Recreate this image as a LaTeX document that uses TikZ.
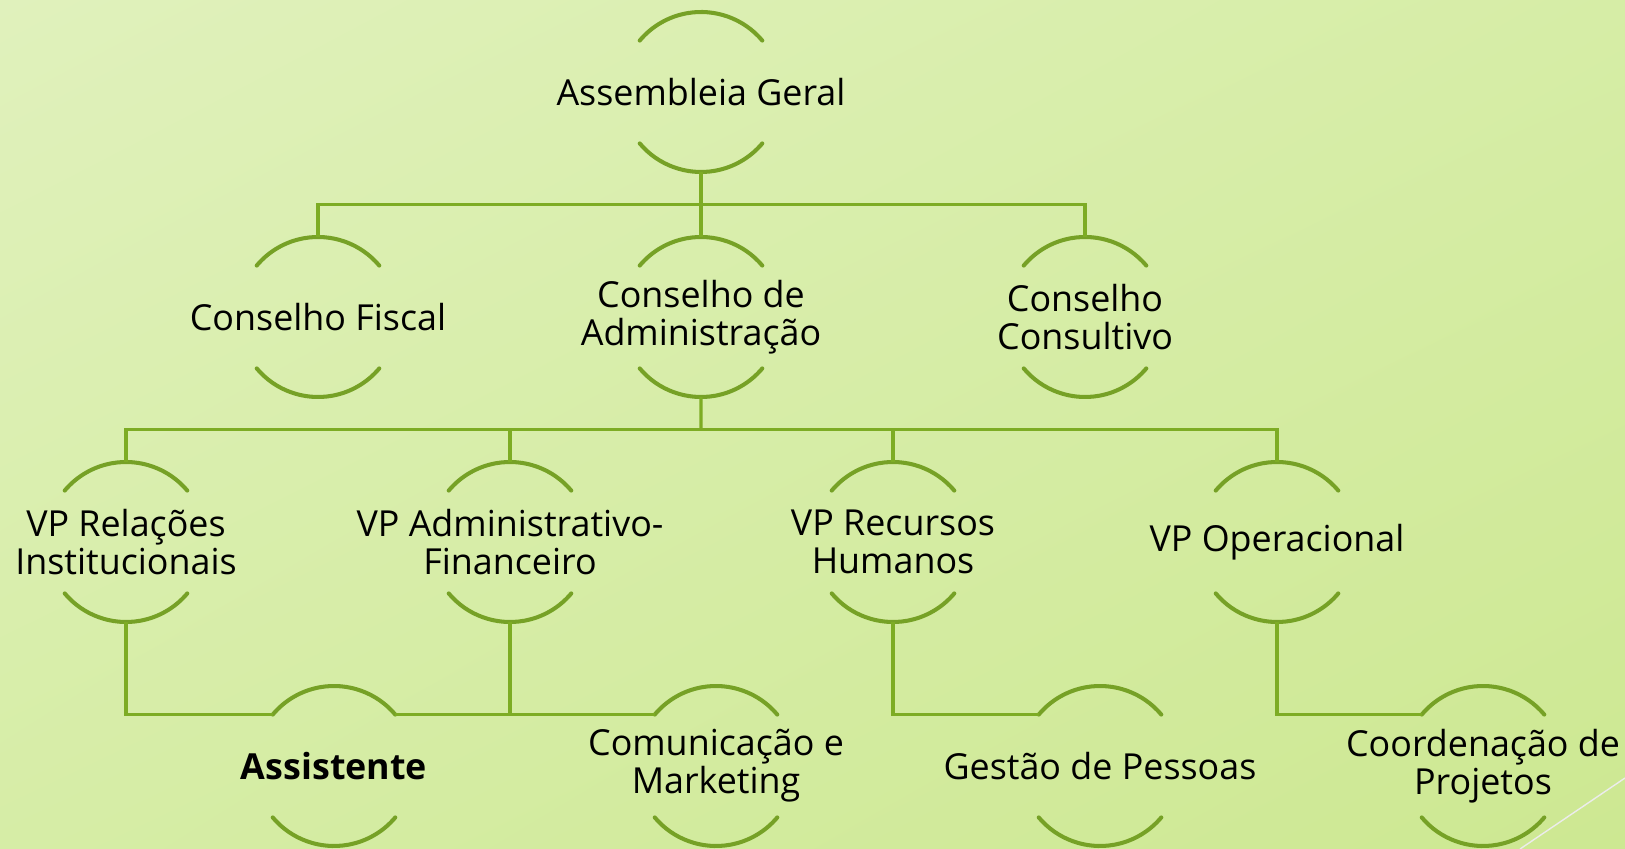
\documentclass[tikz,border=0pt]{standalone}
\usepackage{fontspec}
\setmainfont{Open Sans}
\usetikzlibrary{calc,shadings}

\definecolor{bgtop}{RGB}{224,241,188}
\definecolor{bgmid}{RGB}{214,237,166}
\definecolor{bgbot}{RGB}{205,232,146}
\definecolor{arcgreen}{RGB}{118,161,38}
\definecolor{linkgreen}{RGB}{125,172,36}

\tikzset{
  unit/.style={circle, minimum size=16mm, inner sep=0pt, outer sep=0pt},
  unittext/.style={align=center, font=\fontsize{10.2}{10.8}\selectfont, text=black, inner sep=0pt},
  arcline/.style={draw=arcgreen, line width=1.15pt, line cap=round},
  link/.style={draw=linkgreen, line width=0.9pt}
}

\begin{document}
\begin{tikzpicture}[x=0.1mm, y=0.1mm]
\shade[upper left=bgtop, upper right=bgmid, lower left=bgmid, lower right=bgbot] (0,0) rectangle (1625,-849);
\useasboundingbox (0,0) rectangle (1625,-849);
\draw[white!85!gray, line width=0.4pt] (1520,-849) -- (1625,-778);

\node[unit, label={[unittext]center:Assembleia Geral}] (ag) at (701,-92) {};

\node[unit, label={[unittext]center:Conselho Fiscal}] (cf) at (318,-317) {};
\node[unit, label={[unittext]center:Conselho de\\Administração}] (ca) at (701,-317) {};
\node[unit, label={[unittext]center:Conselho\\Consultivo}] (cc) at (1085,-317) {};

\node[unit, label={[unittext]center:VP Relações\\Institucionais}] (vpr) at (126,-542) {};
\node[unit, label={[unittext]center:VP Administrativo-\\Financeiro}] (vpa) at (510,-542) {};
\node[unit, label={[unittext]center:VP Recursos\\Humanos}] (vph) at (893,-542) {};
\node[unit, label={[unittext]center:VP Operacional}] (vpo) at (1277,-542) {};

\node[unit, label={[unittext, font=\fontsize{10.2}{10.8}\selectfont\bfseries]center:Assistente}] (as) at (334,-766) {};
\node[unit, label={[unittext]center:Comunicação e\\Marketing}] (cm) at (716,-766) {};
\node[unit, label={[unittext]center:Gestão de Pessoas}] (gp) at (1100,-766) {};
\node[unit, label={[unittext]center:Coordenação de\\Projetos}] (cp) at (1483,-766) {};

% top and bottom arcs of every unit
\foreach \n in {ag,cf,ca,cc,vpr,vpa,vph,vpo,as,cm,gp,cp}{
  \draw[arcline] (\n.40) arc[start angle=40, end angle=140, radius=80];
  \draw[arcline] (\n.220) arc[start angle=220, end angle=320, radius=80];
}

% connectors
\coordinate (j1) at ($(ag.south)!0.5!(ca.north)$);
\coordinate (j2) at ($(ca.south)!0.5!(ca.south |- vpa.north)$);
\draw[link] (ag.south) -- (ca.north);
\draw[link] (cf.north) |- (j1) -| (cc.north);
\draw[link] (ca.south) -- (j2);
\draw[link] (vpr.north) |- (j2) -| (vpo.north);
\draw[link] (vpa.north) -- (vpa.north |- j2);
\draw[link] (vph.north) -- (vph.north |- j2);
\draw[link] (vpr.south) |- (as.140);
\draw[link] (as.40) -- (as.40 -| vpa.south);
\draw[link] (vpa.south) |- (cm.140);
\draw[link] (vph.south) |- (gp.140);
\draw[link] (vpo.south) |- (cp.140);
\end{tikzpicture}
\end{document}
